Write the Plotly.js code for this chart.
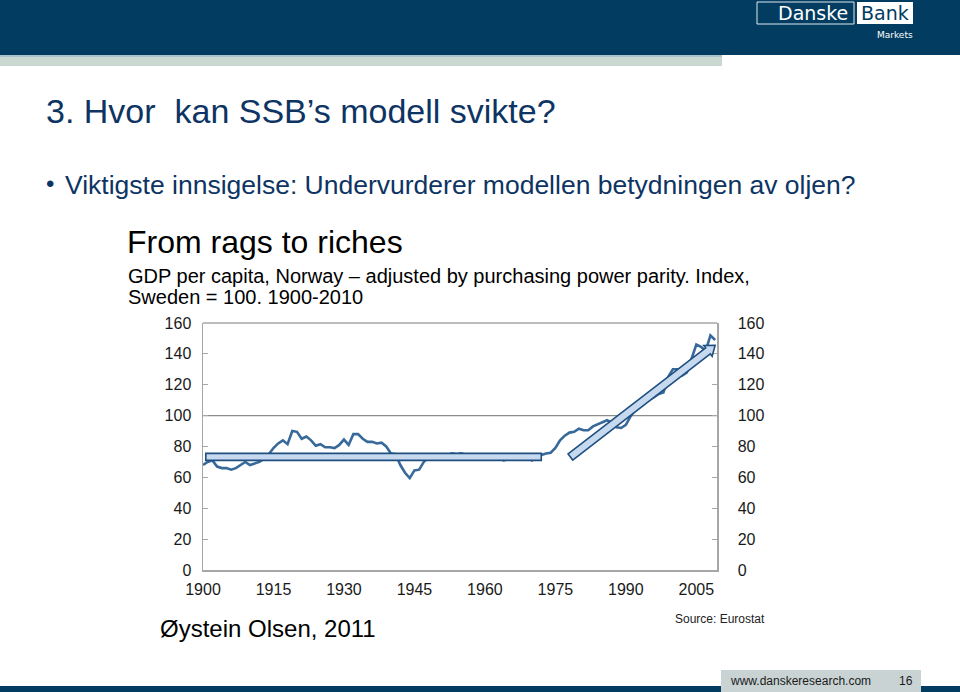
<!DOCTYPE html>
<html><head><meta charset="utf-8">
<script src="https://cdn.plot.ly/plotly-3.0.1.min.js"></script>
<style>html,body{margin:0;padding:0;background:#fff;overflow:hidden}#chart{width:960px;height:692px}</style>
</head><body><div id="chart"></div>
<script>
// ---------- data ----------
const years = [1900,1901,1902,1903,1904,1905,1906,1907,1908,1909,
  1910,1911,1912,1913,1914,1915,1916,1917,1918,1919,
  1920,1921,1922,1923,1924,1925,1926,1927,1928,1929,
  1930,1931,1932,1933,1934,1935,1936,1937,1938,1939,
  1940,1941,1942,1943,1944,1945,1946,1947,1948,1949,
  1950,1951,1952,1953,1954,1955,1956,1957,1958,1959,
  1960,1961,1962,1963,1964,1965,1966,1967,1968,1969,
  1970,1971,1972,1973,1974,1975,1976,1977,1978,1979,
  1980,1981,1982,1983,1984,1985,1986,1987,1988,1989,
  1990,1991,1992,1993,1994,1995,1996,1997,1998,1999,
  2000,2001,2002,2003,2004,2005,2006,2007,2008,2009];
const gdpIndex = [68,70,71,67,66,66,65,66,68,70,
  68,69,70,72,75,79,82,84,81.5,90,
  89.5,85,86.5,84,80.5,81.5,79.5,79.5,79,81,
  84.5,81,88,88,85,83,83,82,82.5,80,
  75.5,75,68,63,59.5,64.5,65,70,73,73.5,
  73.5,73.5,74,75.5,75,75.5,74.5,74,74,73.5,
  73.5,73,73,72.5,71,72,73,73.5,74,73,
  71,73,74.5,75.5,76,79,84,87,89,89.5,
  91.5,90.5,90.5,93,94.5,96,97,95.5,92.5,92,
  94,99.5,104,107,108.5,110,112,114,115,125,
  130,130,126,128,137,146,144.5,142,152,149];
const xTickVals = [1900,1915,1930,1945,1960,1975,1990,2005];
const yTickVals = [0,20,40,60,80,100,120,140,160];
const flatTrendYears = [1900.6, 1972];
const flatTrendLevel = [73.3, 73.3];
const riseTrendYears = [1978.2, 2009.0];
const riseTrendLevel = [73.2, 145.5];
const swedenLevel = 100;

// ---------- geometry ----------
const W = 960, H = 692, ML = 203, MR = 243, MT = 323, MB = 122;
const PW = W - ML - MR, PH = H - MT - MB;
const XR = [1900, 2009.4], YR = [0, 160];
const sx = PW / (XR[1] - XR[0]), sy = PH / (YR[1] - YR[0]);
const PX = px => (px - ML) / PW;
const PY = py => (H - MB - py) / PH;

const FONT = 'Liberation Sans, Arial, sans-serif';
const LOGOFONT = 'DejaVu Sans, sans-serif';
const NAVY = '#023d61';
const TXT = '#0d3463';
const LINE = '#37699b';
const BARFILL = '#c6d9ef';
const BAREDGE = '#1f4f80';

// arrow polygon (built in pixel space, converted to data units)
function arrowPath(x0, y0, x1, y1, w, hw, hl) {
  const dx = (x1 - x0) * sx, dy = (y1 - y0) * sy;
  const L = Math.hypot(dx, dy);
  const ux = dx / L, uy = dy / L, nx = -uy, ny = ux;
  const pts = [
    [nx * w, ny * w],
    [ux * (L - hl) + nx * w, uy * (L - hl) + ny * w],
    [ux * (L - hl) + nx * hw, uy * (L - hl) + ny * hw],
    [dx, dy],
    [ux * (L - hl) - nx * hw, uy * (L - hl) - ny * hw],
    [ux * (L - hl) - nx * w, uy * (L - hl) - ny * w],
    [-nx * w, -ny * w]
  ];
  return pts.map((p, i) => (i ? 'L' : 'M') + (x0 + p[0] / sx) + ',' + (y0 + p[1] / sy)).join(' ') + ' Z';
}

const traces = [
  {x: years, y: gdpIndex, type: 'scatter', mode: 'lines',
   line: {color: LINE, width: 2.6}, hoverinfo: 'x+y', showlegend: false},
  {x: years, y: gdpIndex, type: 'scatter', mode: 'lines', yaxis: 'y2',
   line: {color: LINE, width: 0}, opacity: 0, hoverinfo: 'skip', showlegend: false}
];

const shapes = [
  // header band
  {type: 'rect', xref: 'paper', yref: 'paper', x0: PX(0), x1: PX(960), y0: PY(55), y1: PY(0), fillcolor: NAVY, line: {width: 0}, layer: 'below'},
  {type: 'rect', xref: 'paper', yref: 'paper', x0: PX(0), x1: PX(722), y0: PY(66), y1: PY(55), fillcolor: '#c9d8d1', line: {width: 0}, layer: 'below'},
  {type: 'rect', xref: 'paper', yref: 'paper', x0: PX(0), x1: PX(722), y0: PY(57), y1: PY(55), fillcolor: '#a7c4cb', line: {width: 0}, layer: 'below'},
  // logo boxes
  {type: 'rect', xref: 'paper', yref: 'paper', x0: PX(757), x1: PX(854), y0: PY(24), y1: PY(2), fillcolor: 'rgba(0,0,0,0)', line: {color: '#dfe8ef', width: 1}, layer: 'below'},
  {type: 'rect', xref: 'paper', yref: 'paper', x0: PX(857), x1: PX(913), y0: PY(24), y1: PY(2), fillcolor: '#ffffff', line: {width: 0}, layer: 'below'},
  // footer
  {type: 'rect', xref: 'paper', yref: 'paper', x0: PX(0), x1: PX(960), y0: PY(692), y1: PY(686), fillcolor: NAVY, line: {width: 0}, layer: 'below'},
  {type: 'rect', xref: 'paper', yref: 'paper', x0: PX(721), x1: PX(921), y0: PY(692), y1: PY(670), fillcolor: '#c9d3d3', line: {width: 0}, layer: 'below'},
  // plot frame: top border and reference line at 100
  {type: 'line', xref: 'paper', yref: 'paper', x0: 0, x1: 1, y0: 1, y1: 1, line: {color: '#a6a6a6', width: 1.5}},
  {type: 'line', xref: 'paper', yref: 'y', x0: 0, x1: 1, y0: swedenLevel, y1: swedenLevel, line: {color: '#8c8c8c', width: 1.2}, layer: 'below'},
  // trend bar (flat)
  {type: 'rect', xref: 'x', yref: 'y', x0: flatTrendYears[0], x1: flatTrendYears[1],
   y0: flatTrendLevel[0] - 3.5 / sy, y1: flatTrendLevel[1] + 3.5 / sy,
   fillcolor: BARFILL, line: {color: BAREDGE, width: 1.6}, layer: 'above'},
  // trend arrow (rising)
  {type: 'path', xref: 'x', yref: 'y',
   path: arrowPath(riseTrendYears[0], riseTrendLevel[0], riseTrendYears[1], riseTrendLevel[1], 3.8, 6.8, 9),
   fillcolor: BARFILL, line: {color: BAREDGE, width: 1.6}, layer: 'above'}
];

function txt(text, px, py, size, color, opts, family) {
  return Object.assign({text: text, xref: 'paper', yref: 'paper', x: PX(px), y: PY(py),
    xanchor: 'left', yanchor: 'middle', showarrow: false, borderpad: 0, borderwidth: 0,
    font: {family: family || FONT, size: size, color: color}}, opts || {});
}

const annotations = [
  txt('Danske', 813, 13, 19, '#ffffff', {xanchor: 'center'}, LOGOFONT),
  txt('Bank', 885, 13, 19, NAVY, {xanchor: 'center'}, LOGOFONT),
  txt('Markets', 913, 35, 9, '#ffffff', {xanchor: 'right'}, LOGOFONT),
  txt('3. Hvor\u00a0 kan SSB’s modell svikte?', 46, 111, 34, TXT),
  txt('•', 46, 184, 24, TXT),
  txt('Viktigste innsigelse: Undervurderer modellen betydningen av oljen?', 65, 185, 26.5, TXT),
  txt('From rags to riches', 127, 242, 32, '#000000'),
  txt('GDP per capita, Norway – adjusted by purchasing power parity. Index,', 128, 276, 20, '#000000'),
  txt('Sweden = 100. 1900-2010', 128, 297, 20, '#000000'),
  txt('Øystein Olsen, 2011', 160, 628, 24, '#000000'),
  txt('Source: Eurostat', 675, 619, 12, '#222222'),
  txt('www.danskeresearch.com', 730, 681, 12, '#1a1a1a'),
  txt('16', 899, 681, 12, '#1a1a1a')
];

const axisFont = {family: FONT, size: 16, color: '#1a1a1a'};
const layout = {
  width: W, height: H,
  margin: {l: ML, r: MR, t: MT, b: MB, pad: 0},
  paper_bgcolor: '#ffffff', plot_bgcolor: '#ffffff',
  showlegend: false,
  xaxis: {range: XR, tickvals: xTickVals, ticktext: xTickVals.map(String), showgrid: false, zeroline: false,
          showline: true, linecolor: '#a6a6a6', linewidth: 1.5, ticks: '', tickfont: axisFont, ticklabelstandoff: 4, fixedrange: true},
  yaxis: {range: YR, tickvals: yTickVals, showgrid: false, zeroline: false,
          showline: true, linecolor: '#a6a6a6', linewidth: 1.5, ticks: 'inside', ticklen: 5, tickcolor: '#a6a6a6',
          tickfont: axisFont, ticklabelstandoff: 7, fixedrange: true},
  yaxis2: {range: YR, tickvals: yTickVals, overlaying: 'y', side: 'right', showgrid: false, zeroline: false,
           showline: true, linecolor: '#a6a6a6', linewidth: 1.5, ticks: 'inside', ticklen: 5, tickcolor: '#a6a6a6',
           tickfont: axisFont, ticklabelstandoff: 16, fixedrange: true},
  shapes: shapes,
  annotations: annotations
};

Plotly.newPlot('chart', traces, layout, {displayModeBar: false, staticPlot: true});
</script>
</body></html>
